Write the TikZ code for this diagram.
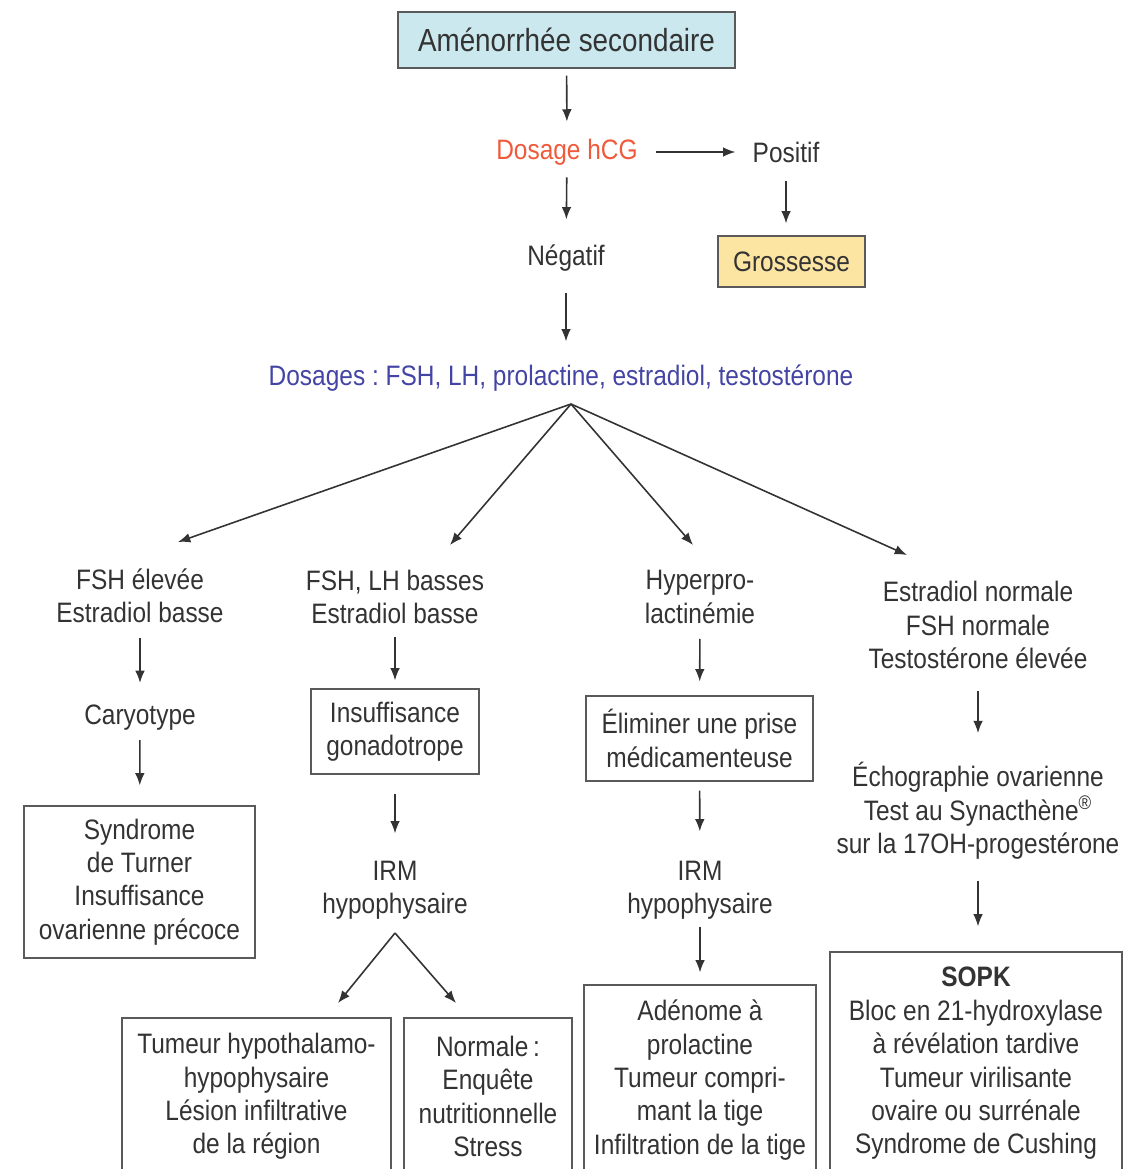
\documentclass[tikz,border=0pt]{standalone}
\usepackage{fontspec}
\setmainfont{Liberation Sans}[FakeStretch=0.87]
\usepackage{xcolor}
\usetikzlibrary{arrows.meta}
\frenchspacing

\definecolor{txtgray}{HTML}{333333}
\definecolor{edgegray}{HTML}{5A5A5A}
\definecolor{hcgred}{HTML}{F05A3C}
\definecolor{dosblue}{HTML}{4444A4}
\definecolor{amencyan}{HTML}{CBE8EE}
\definecolor{grossyellow}{HTML}{FCE4A2}

\begin{document}
\begin{tikzpicture}[x=0.02cm, y=-0.02cm,
    every node/.style={text=txtgray, font=\fontsize{16}{19}\selectfont, align=center, inner sep=0pt},
    box/.style={draw=edgegray, line width=0.7pt},
    arr/.style={draw=txtgray, line width=0.9pt, -{Latex[length=7pt, width=5.5pt]}},
    gap/.style 2 args={shorten <=#1*0.02cm, shorten >=#2*0.02cm}]
    \useasboundingbox (0, 0) rectangle (1125, 1169);

    % top of the chart
    \node[box, fill=amencyan, minimum width=337*0.02cm, minimum height=56*0.02cm,
        font=\fontsize{18.2}{22}\selectfont] (amen) at (566.5, 40) {Aménorrhée secondaire};
    \node[text=hcgred] (hcg) at (567, 152) {Dosage hCG};
    \node (pos) at (786, 152) {Positif};
    \node[box, fill=grossyellow, minimum width=147*0.02cm, minimum height=51*0.02cm] (gross) at (791.5, 261.5) {Grossesse};
    \node (neg) at (566, 258) {Négatif};
    \node[text=dosblue] (dos) at (561, 378) {Dosages : FSH, LH, prolactine, estradiol, testostérone};

    \draw[arr, gap={7}{17}] (amen) -- (hcg);
    \draw[arr, gap={18}{17}] (hcg) -- (pos);
    \draw[arr, gap={12}{25}] (hcg) -- (neg);
    \draw[arr, gap={18}{12}] (pos.south) -- (pos.south |- gross.north);
    \draw[arr, gap={21}{23}] (neg.south) -- (neg.south |- dos.north);

    % fan towards the four columns
    \coordinate (fan) at (571, 404);
    \coordinate (to1) at (178, 542);
    \coordinate (to2) at (450, 545);
    \coordinate (to3) at (693, 545);
    \coordinate (to4) at (907, 555);
    \foreach \t in {to1, to2, to3, to4}
        \draw[arr] (fan) -- (\t);

    % column 1
    \node (col1) at (140, 596) {FSH élevée\\Estradiol basse};
    \node (cary) at (140, 718) {Caryotype};
    \node[box, minimum width=231*0.02cm, minimum height=152*0.02cm] (turner) at (139.5, 882)
        {Syndrome\\de Turner\\Insuffisance\\ovarienne précoce};
    \draw[arr, gap={14}{22}] (col1) -- (cary);
    \draw[arr, gap={9}{20}] (cary) -- (turner);

    % column 2
    \node (col2) at (395, 597) {FSH, LH basses\\Estradiol basse};
    \node[box, minimum width=168*0.02cm, minimum height=85*0.02cm] (gonado) at (395, 731.5)
        {Insuffisance\\gonadotrope};
    \node (irm2) at (395, 890) {IRM\\hypophysaire};
    \node[box, minimum width=269*0.02cm, minimum height=157*0.02cm] (tumeur) at (256.5, 1096.5)
        {Tumeur hypothalamo-\\hypophysaire\\Lésion infiltrative\\de la région};
    \node[box, minimum width=168*0.02cm, minimum height=157*0.02cm] (normale) at (488, 1096.5)
        {Normale\,:\\Enquête\\nutritionnelle\\Stress};
    \draw[arr, gap={13}{8}] (col2) -- (gonado);
    \draw[arr, gap={19}{27}] (gonado) -- (irm2);
    \coordinate (irmfan) at (395, 933);
    \coordinate (totum) at (338, 1003);
    \coordinate (tonorm) at (456, 1003);
    \draw[arr] (irmfan) -- (totum);
    \draw[arr] (irmfan) -- (tonorm);

    % column 3
    \node (col3) at (700, 597) {Hyperpro-\\lactinémie};
    \node[box, minimum width=227*0.02cm, minimum height=85*0.02cm] (elim) at (699.5, 738.5)
        {Éliminer une prise\\médicamenteuse};
    \node (irm3) at (700, 890) {IRM\\hypophysaire};
    \node[box, minimum width=232*0.02cm, minimum height=190*0.02cm] (adenome) at (700, 1080)
        {Adénome à\\prolactine\\Tumeur compri-\\mant la tige\\Infiltration de la tige};
    \draw[arr, gap={15}{14}] (col3) -- (elim);
    \draw[arr, gap={9}{29}] (elim) -- (irm3);
    \draw[arr, gap={7}{12}] (irm3) -- (adenome);

    % column 4
    \node (col4) at (978, 625) {Estradiol normale\\FSH normale\\Testostérone élevée};
    \node (echo) at (978, 811) {Échographie ovarienne\\Test au Synacthène\textsuperscript{®}\\sur la 17OH-progestérone};
    \node[box, minimum width=292*0.02cm, minimum height=223*0.02cm] (sopk) at (976, 1063.5)
        {\textbf{SOPK}\\Bloc en 21-hydroxylase\\à révélation tardive\\Tumeur virilisante\\ovaire ou surrénale\\Syndrome de Cushing};
    \draw[arr, gap={22}{29}] (col4) -- (echo);
    \draw[arr, gap={21}{25}] (echo.south) -- (echo.south |- sopk.north);
\end{tikzpicture}
\end{document}
